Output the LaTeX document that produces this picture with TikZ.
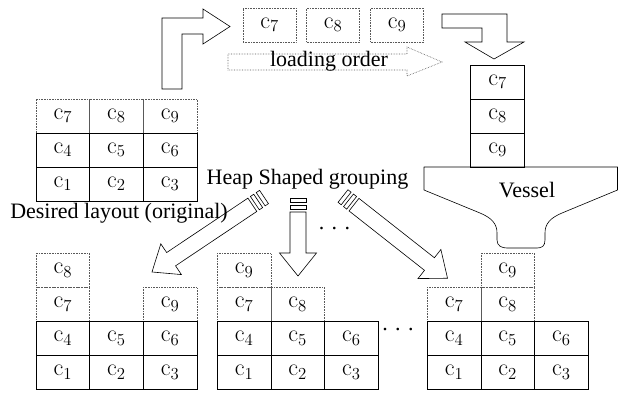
\documentclass[tikz,border=0pt]{standalone}
\usepackage{fix-cm}
\usepackage[no-math]{fontspec}
\setmainfont{Liberation Serif}
\newcommand{\cc}[1]{$\mathrm{c}_{#1}$}
\newcommand{\brokenarrow}[3]{%
\begin{scope}[shift={#1}, rotate=#2]
 \draw[fat] (0,-8) rectangle (4,8);
 \draw[fat] (7,-8) rectangle (11,8);
 \draw[fat] (14,-8) -- ({#3-23},-8) -- ({#3-23},-18.5) -- (#3,0) -- ({#3-23},18.5) -- ({#3-23},8) -- (14,8) -- cycle;
\end{scope}}
\begin{document}
\begin{tikzpicture}[x=1pt,y=-1pt,
  every node/.style={font=\fontsize{22}{26}\selectfont},
  cell/.style={draw=black, line width=0.6pt, minimum width=53.6pt, minimum height=34pt, inner sep=0pt, outer sep=0pt, font=\fontsize{24}{28}\selectfont},
  dcell/.style={cell, draw=black!65, densely dotted},
  topbox/.style={dcell, minimum width=53pt},
  fat/.style={draw=black, line width=0.6pt, line join=miter},
  txt/.style={inner sep=0pt}
]
\useasboundingbox (0,0) rectangle (618,392);

% ---------- original layout ----------
\node[dcell] (o7) at (62.8,116) {\cc7};
\node[dcell] (o8) at (116.4,116) {\cc8};
\node[dcell] (o9) at (170,116) {\cc9};
\node[cell] (o4) at (62.8,150) {\cc4};
\node[cell] (o5) at (116.4,150) {\cc5};
\node[cell] (o6) at (170,150) {\cc6};
\node[cell] (o1) at (62.8,184) {\cc1};
\node[cell] (o2) at (116.4,184) {\cc2};
\node[cell] (o3) at (170,184) {\cc3};
\node[txt] (desired) at (119,213) {Desired layout (original)};

% ---------- bent arrow up/right ----------
\draw[fat] (162,89) -- (162,18) -- (203,18) -- (203,9) -- (230,26.5) -- (203,44) -- (203,34) -- (182,34) -- (182,89) -- cycle;

% ---------- loading boxes ----------
\node[topbox] (t7) at (269.5,25) {\cc7};
\node[topbox] (t8) at (333,25) {\cc8};
\node[topbox] (t9) at (397,25) {\cc9};

% ---------- loading order arrow ----------
\draw[draw=black!65, densely dotted, line width=0.6pt] (228,54) -- (407,54) -- (407,47) -- (442,62) -- (407,76) -- (407,70) -- (228,70) -- cycle;
\node[txt] (load) at (329,61) {loading order};

% ---------- bent arrow right/down ----------
\draw[fat] (442,14) -- (507,14) -- (507,42) -- (524,42) -- (494,59) -- (465,42) -- (482,42) -- (482,28) -- (442,28) -- cycle;

% ---------- stack on vessel ----------
\node[cell] (s7) at (497.5,82) {\cc7};
\node[cell] (s8) at (497.5,116) {\cc8};
\node[cell] (s9) at (497.5,150) {\cc9};

% ---------- vessel ----------
\draw[fat, line join=round] (424,167) -- (617.5,167) -- (617.5,190) -- (562,213)
  .. controls (550,218) and (545,224) .. (545,233) -- (545,240)
  .. controls (545,246) and (542,248) .. (537,248) -- (507,248)
  .. controls (502,248) and (497,246) .. (497,240) -- (497,233)
  .. controls (497,224) and (492,218) .. (480,213) -- (424,190) -- cycle;
\node[txt] (vessel) at (527,190) {Vessel};

% ---------- heap shaped grouping ----------
\node[txt] (heap) at (307.5,179) {Heap Shaped grouping};
\brokenarrow{(264,197)}{213.8}{134.8}
\brokenarrow{(298,198)}{-90}{78}
\brokenarrow{(343,196)}{-38.2}{133}
\node[txt] (dotsA) at (334.5,229) {. . .};
\node[txt] (dotsB) at (398,330) {. . .};

% ---------- grouping 1 ----------
\node[dcell] (a8) at (62.8,270.3) {\cc8};
\node[dcell] (a7) at (62.8,304.3) {\cc7};
\node[dcell] (a9) at (170,304.3) {\cc9};
\node[cell] (a4) at (62.8,338.3) {\cc4};
\node[cell] (a5) at (116.4,338.3) {\cc5};
\node[cell] (a6) at (170,338.3) {\cc6};
\node[cell] (a1) at (62.8,372.3) {\cc1};
\node[cell] (a2) at (116.4,372.3) {\cc2};
\node[cell] (a3) at (170,372.3) {\cc3};

% ---------- grouping 2 ----------
\node[dcell] (b9) at (244.1,270.3) {\cc9};
\node[dcell] (b7) at (244.1,304.3) {\cc7};
\node[dcell] (b8) at (297.7,304.3) {\cc8};
\node[cell] (b4) at (244.1,338.3) {\cc4};
\node[cell] (b5) at (297.7,338.3) {\cc5};
\node[cell] (b6) at (351.3,338.3) {\cc6};
\node[cell] (b1) at (244.1,372.3) {\cc1};
\node[cell] (b2) at (297.7,372.3) {\cc2};
\node[cell] (b3) at (351.3,372.3) {\cc3};

% ---------- grouping 3 ----------
\node[dcell] (d9) at (507.7,270.3) {\cc9};
\node[dcell] (d7) at (454.1,304.3) {\cc7};
\node[dcell] (d8) at (507.7,304.3) {\cc8};
\node[cell] (d4) at (454.1,338.3) {\cc4};
\node[cell] (d5) at (507.7,338.3) {\cc5};
\node[cell] (d6) at (561.3,338.3) {\cc6};
\node[cell] (d1) at (454.1,372.3) {\cc1};
\node[cell] (d2) at (507.7,372.3) {\cc2};
\node[cell] (d3) at (561.3,372.3) {\cc3};
\end{tikzpicture}
\end{document}
